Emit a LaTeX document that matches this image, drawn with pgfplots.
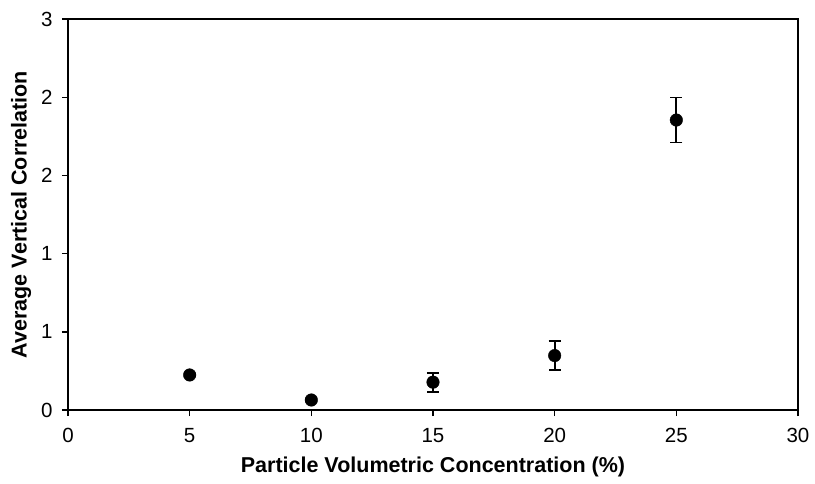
\documentclass[border=0pt]{standalone}
\usepackage{pgfplots}
\pgfplotsset{compat=1.18}
\usepackage{fontspec}
\setmainfont{Liberation Sans}
\begin{document}
\begin{tikzpicture}[x=1pt,y=1pt]
\useasboundingbox (-68,-73) rectangle (747,410);
\begin{axis}[
  at={(0,0)}, anchor=south west,
  scale only axis, width=730pt, height=391pt,
  xmin=0, xmax=30, ymin=0, ymax=2.5,
  xtick={0,5,...,30},
  ytick={0,0.5,1,1.5,2,2.5},
  yticklabels={0,1,1,2,2,3},
  tick align=outside, xtick pos=bottom, ytick pos=left,
  major tick length=6pt,
  axis line style={line width=1.4pt},
  every tick/.style={line width=1.4pt, black},
  tick label style={font=\fontsize{20.5}{23}\selectfont},
  xticklabel style={yshift=-9pt},
  yticklabel style={xshift=-6pt},
  /pgf/number format/assume math mode=true,
  xlabel={Particle Volumetric Concentration (\%)},
  ylabel={Average Vertical Correlation},
  label style={font=\bfseries\fontsize{21.5}{24}\selectfont},
  xlabel style={at={(rel axis cs:0.5,0)}, anchor=center, yshift=-57pt},
  ylabel style={at={(rel axis cs:0,0.5)}, anchor=center, yshift=47pt},
]
\addplot[only marks, mark=*, mark size=6.3pt, black,
  error bars/.cd, y dir=both, y explicit,
  error bar style={line width=1.8pt, black},
  error mark options={rotate=90, mark size=6pt, line width=1.8pt, black}]
coordinates {
  (5,0.224) +- (0,0.01)
  (10,0.064) +- (0,0.01)
  (15,0.178) +- (0,0.061)
  (20,0.348) +- (0,0.091)
  (25,1.854) +- (0,0.144)
};
\end{axis}
\end{tikzpicture}
\end{document}
